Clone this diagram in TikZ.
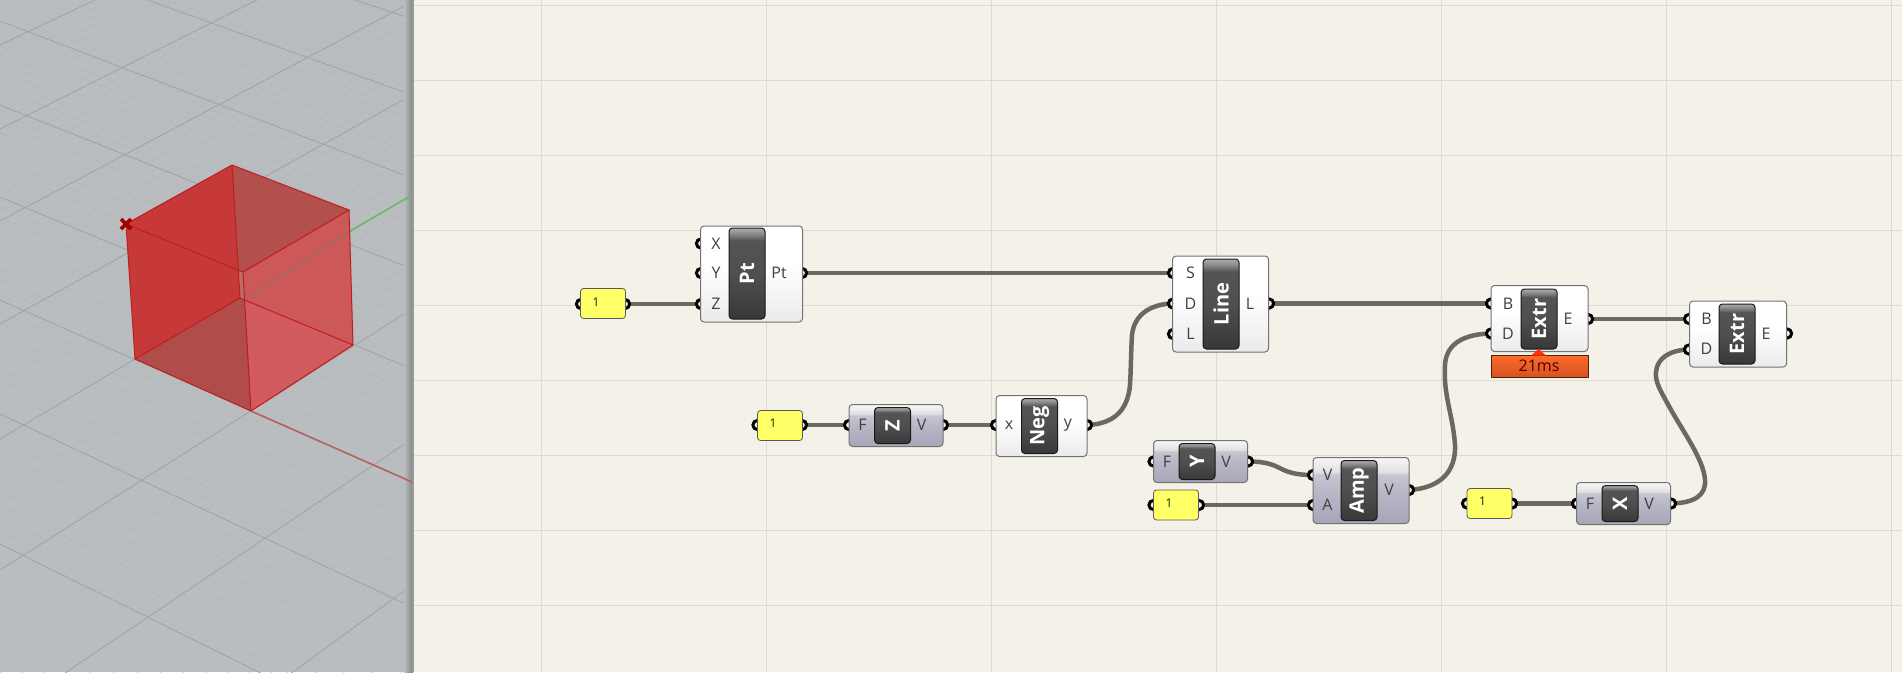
\documentclass[tikz,border=0pt]{standalone}
\usepackage{fontspec}
\setmainfont{Open Sans}

\definecolor{canvasbg}{HTML}{F4F1E9}
\definecolor{canvasgrid}{HTML}{DDDBD0}
\definecolor{viewbg}{HTML}{B9BDBF}
\definecolor{viewgrid}{HTML}{A0A2A4}
\definecolor{viewminor}{HTML}{B4B7B9}
\definecolor{wirecol}{HTML}{6C685D}
\definecolor{edgecol}{HTML}{BE1C1E}
\definecolor{faceleft}{HTML}{C83434}
\definecolor{facetop}{HTML}{B34B48}
\definecolor{faceright}{HTML}{CE5454}
\definecolor{facelow}{HTML}{D2575C}
\definecolor{facebottom}{HTML}{B04845}
\definecolor{facesliver}{HTML}{BC6B69}
\definecolor{sliderfill}{HTML}{FFFF66}
\definecolor{axisgreen}{HTML}{6DB76A}
\definecolor{axisred}{HTML}{B5615E}

\pgfdeclareverticalshading{compwhite}{100bp}{rgb(0bp)=(.92,.92,.92);rgb(25bp)=(.92,.92,.92);rgb(55bp)=(1,1,1);rgb(100bp)=(1,1,1)}
\pgfdeclareverticalshading{compgray}{100bp}{rgb(0bp)=(.65,.65,.72);rgb(25bp)=(.65,.65,.72);rgb(50bp)=(.72,.72,.78);rgb(62bp)=(.78,.78,.82);rgb(64bp)=(.88,.88,.89);rgb(75bp)=(.97,.97,.97);rgb(100bp)=(.97,.97,.97)}
\pgfdeclareverticalshading{capsule}{100bp}{rgb(0bp)=(.22,.22,.22);rgb(25bp)=(.22,.22,.22);rgb(50bp)=(.31,.31,.31);rgb(68bp)=(.33,.33,.33);rgb(71bp)=(.50,.50,.50);rgb(75bp)=(.68,.68,.68);rgb(100bp)=(.68,.68,.68)}
\pgfdeclareverticalshading{timer}{100bp}{rgb(0bp)=(.84,.32,.13);rgb(25bp)=(.84,.32,.13);rgb(75bp)=(1,.42,.17);rgb(100bp)=(1,.42,.17)}

\tikzset{
    comp/.style={shading=compwhite, draw=black!55, line width=1pt, rounded corners=3.5pt, inner sep=0pt, outer sep=0pt},
    compg/.style={comp, shading=compgray},
    capsule/.style={shading=capsule, draw=black!90, line width=1pt, rounded corners=3.5pt, inner sep=0pt, minimum width=36pt},
    capname/.style={text=white, rotate=90, inner sep=0pt, font=\fontsize{20}{20}\selectfont\bfseries},
    slider/.style={draw=black!65, fill=sliderfill, line width=.8pt, rounded corners=3pt, inner sep=0pt, minimum width=45pt, minimum height=30pt},
    slidertext/.style={inner sep=0pt, text=black!60!green!50!black, font=\fontsize{12}{12}\selectfont},
    plabel/.style={inner sep=0pt, text=black!75, font=\fontsize{16}{16}\selectfont},
    wire/.style={draw=wirecol, line width=4.5pt},
    port/.style={draw=black, line width=3pt, fill=canvasbg},
    face/.style={fill opacity=.96, draw=none},
    edge/.style={draw=edgecol, line width=1pt, line join=round}
}

\begin{document}
\begin{tikzpicture}[x=1pt, y=-1pt]
    \useasboundingbox (0,0) rectangle (1902,672);

    % Viewport
    \fill[viewbg] (0,0) rectangle (413,672);
    \begin{scope}
        \clip (0,0) rectangle (412,672);
        % Fine grid, between the major lines
        \foreach \ya/\yb/\yc/\yd in {-118/19/-53/95, -53/95/21/178, 21/178/105/269, 105/269/197/369, 197/369/300/482, 300/482/414/607, 414/607/544/748,
            45/-150/129/-78, 129/-78/221/2, 221/2/324/95, 324/95/439/195, 439/195/570/309, 570/309/717/439, 717/439/886/585}
            \foreach \t in {0.1,0.2,...,0.95}
                \draw[viewminor, line width=.3pt] (0,{\ya+\t*(\yc-\ya)}) -- (412,{\yb+\t*(\yd-\yb)});
        % Major lines
        \foreach \ya/\yb in {-118/19, -53/95, 21/178, 105/269, 197/369, 300/482, 414/607, 544/748,
            45/-150, 129/-78, 221/2, 324/95, 439/195, 570/309, 717/439, 886/585}
            \draw[viewgrid, line width=.8pt] (0,\ya) -- (412,\yb);
    \end{scope}
    \shade[left color=viewbg, right color=black!30!viewbg] (404,0) rectangle (413,672);

    % Cube corners
    \coordinate (cubeA) at (126,224);
    \coordinate (cubeB) at (232,165);
    \coordinate (cubeC) at (349,210);
    \coordinate (cubeD) at (243,272);
    \coordinate (cubeE) at (135,359);
    \coordinate (cubeF) at (240,298);
    \coordinate (cubeG) at (353,345);
    \coordinate (cubeH) at (251,411);
    \coordinate (cubeK) at (238,271);
    \coordinate (cubeM) at (245,299);

    % Axes
    \draw[axisgreen, line width=1.6pt] (352,230) -- (412,195);
    \draw[axisred, line width=1.6pt] (cubeH) -- (412,482);

    % Cube faces
    \fill[face, fill=faceleft] (cubeA) -- (cubeB) -- (cubeF) -- (cubeE) -- cycle;
    \fill[face, fill=facetop] (cubeB) -- (cubeC) -- (cubeD) -- (cubeK) -- cycle;
    \fill[face, fill=faceright] (cubeD) -- (cubeC) -- (cubeG) -- (cubeM) -- cycle;
    \fill[face, fill=facelow] (cubeM) -- (cubeG) -- (cubeH) -- cycle;
    \fill[face, fill=facebottom] (cubeE) -- (cubeF) -- (cubeM) -- (cubeH) -- cycle;
    \fill[face, fill=facesliver] (cubeK) -- (cubeD) -- (cubeM) -- (cubeF) -- cycle;
    \draw[black!35!viewbg, opacity=.6, line width=1.2pt] (cubeM) -- (352,230);

    % Cube edges
    \draw[edge] (cubeA) -- (cubeB) -- (cubeC) -- (cubeD) -- cycle;
    \draw[edge] (cubeE) -- (cubeF) -- (cubeG) -- (cubeH) -- cycle;
    \draw[edge] (cubeA) -- (cubeE);
    \draw[edge] (cubeB) -- (cubeF);
    \draw[edge] (cubeC) -- (cubeG);
    \draw[edge] (cubeD) -- (cubeH);

    % Start point mark
    \draw[red!65!black, line width=3.6pt] (121,219) -- (131,229);
    \draw[red!65!black, line width=3.6pt] (131,219) -- (121,229);

    % Canvas
    \fill[canvasbg] (414,0) rectangle (1902,672);
    \foreach \gx in {541.7, 766.7, 991.7, 1216.7, 1441.7, 1666.7, 1891.7}
        \draw[canvasgrid, line width=1pt] (\gx,0) -- (\gx,672);
    \foreach \gy in {5, 80, 155, 230, 305, 380, 455, 530, 605}
        \draw[canvasgrid, line width=1pt] (414,\gy) -- (1902,\gy);
    \draw[black!40, line width=1.5pt] (413.2,0) -- (413.2,672);

    % Ports
    \coordinate (ptX) at (701,243.5);
    \coordinate (ptY) at (701,273);
    \coordinate (ptZ) at (701,304);
    \coordinate (ptOut) at (802,273);
    \coordinate (lineS) at (1173,273);
    \coordinate (lineD) at (1173,303.5);
    \coordinate (lineL) at (1173,334);
    \coordinate (lineOut) at (1269,303.5);
    \coordinate (extrAB) at (1491,303.5);
    \coordinate (extrAD) at (1491,333.5);
    \coordinate (extrAOut) at (1588,319);
    \coordinate (extrBB) at (1689,319);
    \coordinate (extrBD) at (1689,349.5);
    \coordinate (extrBOut) at (1787,333.5);
    \coordinate (negIn) at (996,425);
    \coordinate (negOut) at (1087,425);
    \coordinate (zIn) at (849,425);
    \coordinate (zOut) at (943,425);
    \coordinate (yIn) at (1153.5,461.5);
    \coordinate (yOut) at (1248,461.5);
    \coordinate (ampV) at (1313,475);
    \coordinate (ampA) at (1313,505);
    \coordinate (ampOut) at (1409,490);
    \coordinate (xIn) at (1577,503.5);
    \coordinate (xOut) at (1671,503.5);
    \coordinate (sldAIn) at (581,304);
    \coordinate (sldAOut) at (625,304);
    \coordinate (sldBIn) at (757.5,425);
    \coordinate (sldBOut) at (802,425);
    \coordinate (sldCIn) at (1153.5,505);
    \coordinate (sldCOut) at (1199,505);
    \coordinate (sldDIn) at (1467,503.5);
    \coordinate (sldDOut) at (1512,503.5);

    % Wires
    \draw[wire] (sldAOut) -- (ptZ);
    \draw[wire] (ptOut) -- (lineS);
    \draw[wire] (lineOut) -- (extrAB);
    \draw[wire] (extrAOut) -- (extrBB);
    \draw[wire] (sldBOut) -- (zIn);
    \draw[wire] (zOut) -- (negIn);
    \draw[wire] (sldCOut) -- (ampA);
    \draw[wire] (sldDOut) -- (xIn);
    \draw[wire] (negOut) .. controls (1116,424) and (1128,408) .. (1130,385) .. controls (1131,368) and (1131,350) .. (1132,335) .. controls (1134,315) and (1150,304) .. (lineD);
    \draw[wire] (yOut) .. controls (1285,461.5) and (1275,475) .. (ampV);
    \draw[wire] (ampOut) .. controls (1442,488) and (1456,470) .. (1455,445) .. controls (1453,415) and (1443,395) .. (1445,365) .. controls (1446,343) and (1465,334) .. (extrAD);
    \draw[wire] (xOut) .. controls (1695,503) and (1706,495) .. (1705,480) .. controls (1704,460) and (1682,430) .. (1670,408) .. controls (1660,390) and (1655,382) .. (1656,372) .. controls (1657,358) and (1670,350) .. (extrBD);

    \foreach \p in {ptX, ptY, ptZ, ptOut, lineS, lineD, lineL, lineOut, extrAB, extrAD, extrAOut, extrBB, extrBD, extrBOut,
        negIn, negOut, zIn, zOut, yIn, yOut, ampV, ampA, ampOut, xIn, xOut, sldAIn, sldAOut, sldBIn, sldBOut, sldCIn, sldCOut, sldDIn, sldDOut}
        \draw[port] (\p) circle[radius=4.6];

    % Sliders
    \node[slider] (sldA) at (603,303.5) {};
    \node[slidertext] (sldAVal) at (596,302) {1};
    \node[slider] (sldB) at (780,425.5) {};
    \node[slidertext] (sldBVal) at (773,423) {1};
    \node[slider] (sldC) at (1176,505) {};
    \node[slidertext] (sldCVal) at (1169,503) {1};
    \node[slider] (sldD) at (1489.5,503.5) {};
    \node[slidertext] (sldDVal) at (1482.5,501.5) {1};

    % Pt
    \node[comp, minimum width=102pt, minimum height=96pt] (pt) at (751.5,274) {};
    \node[capsule, minimum height=91pt] (ptCap) at (747,273.5) {};
    \node[capname] (ptName) at (747,273.5) {Pt};
    \node[plabel] (ptLabelX) at (716,243.5) {X};
    \node[plabel] (ptLabelY) at (716,273) {Y};
    \node[plabel] (ptLabelZ) at (716,304) {Z};
    \node[plabel] (ptLabelOut) at (779,273) {Pt};

    % Line
    \node[comp, minimum width=96pt, minimum height=96pt] (line) at (1220.5,304) {};
    \node[capsule, minimum height=90pt] (lineCap) at (1221,304) {};
    \node[capname] (lineName) at (1221,304) {Line};
    \node[plabel] (lineLabelS) at (1190.5,273) {S};
    \node[plabel] (lineLabelD) at (1190.5,303.5) {D};
    \node[plabel] (lineLabelL) at (1190.5,334) {L};
    \node[plabel] (lineLabelOut) at (1250,303.5) {L};

    % First extrude and its timer
    \node[comp, minimum width=97pt, minimum height=66pt] (extrA) at (1539.5,318.5) {};
    \node[capsule, minimum height=60pt] (extrACap) at (1539,319) {};
    \node[capname] (extrAName) at (1539,319) {Extr};
    \node[plabel] (extrALabelB) at (1508,303.5) {B};
    \node[plabel] (extrALabelD) at (1508,333.5) {D};
    \node[plabel] (extrALabelOut) at (1568,318.5) {E};
    \node[shading=timer, draw=black!70!orange, line width=1pt, inner sep=0pt, minimum width=97pt, minimum height=22pt] (timerBox) at (1539.5,366) {};
    \fill[red!60!orange] (1531,355.5) -- (1538.7,349) -- (1546,355.5) -- cycle;
    \node[inner sep=0pt, text=black!70!red, font=\fontsize{16}{16}\selectfont] (timerText) at (1539,366) {21ms};

    % Second extrude
    \node[comp, minimum width=97pt, minimum height=66pt] (extrB) at (1738,334) {};
    \node[capsule, minimum height=60pt] (extrBCap) at (1737,334) {};
    \node[capname] (extrBName) at (1737,334) {Extr};
    \node[plabel] (extrBLabelB) at (1706.5,318.5) {B};
    \node[plabel] (extrBLabelD) at (1706.5,349) {D};
    \node[plabel] (extrBLabelOut) at (1766,333.5) {E};

    % Neg
    \node[comp, minimum width=91pt, minimum height=61pt] (neg) at (1041.5,426) {};
    \node[capsule, minimum height=55pt] (negCap) at (1039.5,426) {};
    \node[capname] (negName) at (1039.5,426) {Neg};
    \node[plabel] (negLabelIn) at (1009,425.5) {x};
    \node[plabel] (negLabelOut) at (1068,425) {y};

    % Z
    \node[compg, minimum width=94pt, minimum height=42pt] (z) at (896,425.5) {};
    \node[capsule, minimum height=36pt] (zCap) at (892.5,425.5) {};
    \node[capname] (zName) at (892.5,425.5) {Z};
    \node[plabel] (zLabelIn) at (862.5,425) {F};
    \node[plabel] (zLabelOut) at (921.5,425) {V};

    % Y
    \node[compg, minimum width=94pt, minimum height=42pt] (y) at (1200.5,461.5) {};
    \node[capsule, minimum height=36pt] (yCap) at (1197,461.5) {};
    \node[capname] (yName) at (1197,461.5) {Y};
    \node[plabel] (yLabelIn) at (1167,461.5) {F};
    \node[plabel] (yLabelOut) at (1226,461.5) {V};

    % Amp
    \node[compg, minimum width=96pt, minimum height=66pt] (amp) at (1361,490.5) {};
    \node[capsule, minimum height=60pt] (ampCap) at (1359,490.5) {};
    \node[capname] (ampName) at (1359,490.5) {Amp};
    \node[plabel] (ampLabelV) at (1327.5,475) {V};
    \node[plabel] (ampLabelA) at (1327.5,505) {A};
    \node[plabel] (ampLabelOut) at (1389,490) {V};

    % X
    \node[compg, minimum width=94pt, minimum height=42pt] (x) at (1623.5,503.5) {};
    \node[capsule, minimum height=36pt] (xCap) at (1620,503.5) {};
    \node[capname] (xName) at (1620,503.5) {X};
    \node[plabel] (xLabelIn) at (1590,503.5) {F};
    \node[plabel] (xLabelOut) at (1649,503.5) {V};

\end{tikzpicture}
\end{document}
